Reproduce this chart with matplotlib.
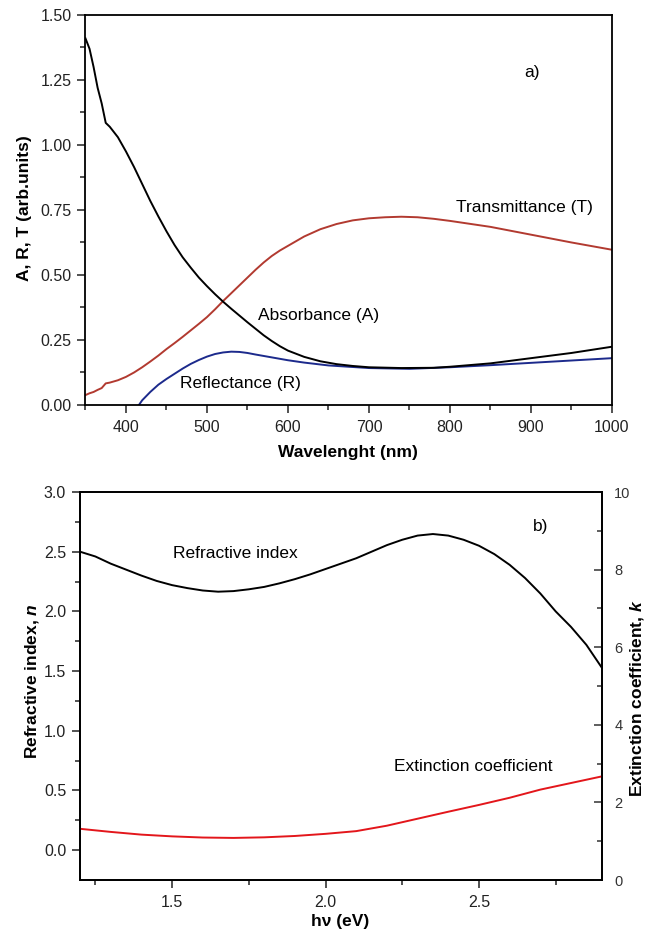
import numpy as np
import matplotlib
matplotlib.use("Agg")
import matplotlib.pyplot as plt
from matplotlib.ticker import MultipleLocator, FormatStrFormatter, FixedLocator

plt.rcParams['font.family'] = ['Liberation Sans', 'DejaVu Sans']
plt.rcParams['mathtext.fontset'] = 'custom'
plt.rcParams['mathtext.it'] = 'Liberation Sans:italic:bold'
plt.rcParams['mathtext.rm'] = 'Liberation Sans:bold'

# ---- panel a): optical spectra ----
wl_A = [350, 355, 360, 365, 370, 375, 380, 390, 400, 410, 420, 430, 440, 450,
        460, 470, 480, 490, 500, 510, 520, 530, 540, 550, 560, 570, 580, 590,
        600, 620, 640, 660, 680, 700, 740, 780, 800, 850, 900, 950, 1000]
absorbance = [1.41, 1.37, 1.30, 1.22, 1.16, 1.085, 1.07, 1.03, 0.975, 0.915, 0.85,
              0.785, 0.725, 0.668, 0.615, 0.568, 0.528, 0.49, 0.457, 0.426, 0.397,
              0.37, 0.344, 0.318, 0.293, 0.268, 0.246, 0.226, 0.209, 0.185,
              0.168, 0.157, 0.15, 0.145, 0.142, 0.143, 0.147, 0.16, 0.18, 0.2, 0.224]

wl_T = [350, 355, 360, 365, 370, 375, 380, 390, 400, 410, 420, 430, 440, 450,
        460, 470, 480, 490, 500, 510, 520, 530, 540, 550, 560, 570, 580, 590,
        600, 620, 640, 660, 680, 700, 720, 740, 760, 780, 800, 850, 900, 950, 1000]
transmittance = [0.038, 0.045, 0.05, 0.058, 0.065, 0.083, 0.086, 0.095, 0.108,
                 0.125, 0.145, 0.167, 0.19, 0.215, 0.238, 0.262, 0.287, 0.312,
                 0.338, 0.368, 0.40, 0.43, 0.46, 0.49, 0.52, 0.548, 0.573, 0.594,
                 0.612, 0.648, 0.676, 0.696, 0.71, 0.718, 0.722, 0.724, 0.722,
                 0.716, 0.708, 0.685, 0.655, 0.625, 0.597]

wl_R = [416, 420, 430, 440, 450, 460, 470, 480, 490, 500, 510, 520, 530, 540,
        550, 560, 580, 600, 620, 650, 700, 750, 800, 850, 900, 950, 1000]
reflectance = [0.0, 0.018, 0.05, 0.078, 0.1, 0.12, 0.14, 0.158, 0.173, 0.186,
               0.196, 0.202, 0.205, 0.204, 0.2, 0.194, 0.183, 0.172, 0.163,
               0.152, 0.142, 0.139, 0.145, 0.153, 0.162, 0.171, 0.18]

# ---- panel b): optical constants ----
energy_n = [1.20, 1.25, 1.30, 1.35, 1.40, 1.45, 1.50, 1.55, 1.60, 1.65, 1.70,
            1.75, 1.80, 1.85, 1.90, 1.95, 2.00, 2.05, 2.10, 2.15, 2.20, 2.25,
            2.30, 2.35, 2.40, 2.45, 2.50, 2.55, 2.60, 2.65, 2.70, 2.75, 2.80,
            2.85, 2.90]
refr_index = [2.50, 2.46, 2.40, 2.35, 2.30, 2.255, 2.22, 2.195, 2.175, 2.165,
              2.17, 2.185, 2.205, 2.235, 2.27, 2.31, 2.355, 2.40, 2.445, 2.50,
              2.555, 2.60, 2.635, 2.648, 2.635, 2.60, 2.55, 2.48, 2.39, 2.28,
              2.15, 2.00, 1.87, 1.72, 1.53]

energy_k = [1.20, 1.30, 1.40, 1.50, 1.60, 1.70, 1.80, 1.90, 2.00, 2.10, 2.20,
            2.30, 2.40, 2.50, 2.60, 2.70, 2.80, 2.90]
ext_coeff = [1.32, 1.24, 1.17, 1.125, 1.095, 1.085, 1.10, 1.135, 1.19, 1.26,
             1.40, 1.58, 1.76, 1.935, 2.12, 2.33, 2.50, 2.67]

LW = 1.4
TICK_FS = 11.5
LABEL_FS = 12.5
ANNOT_FS = 12.5

fig = plt.figure(figsize=(6.5, 9.42), dpi=100)

# ===== top panel =====
ax1 = fig.add_axes([0.1315, 0.5701, 0.8100, 0.4140])
ax1.plot(wl_T, transmittance, color='#b23a30', lw=LW)
ax1.plot(wl_R, reflectance, color='#1c2a8c', lw=LW)
ax1.plot(wl_A, absorbance, color='black', lw=LW)
ax1.set_xlim(350, 1000)
ax1.set_ylim(0, 1.5)
ax1.xaxis.set_major_locator(FixedLocator([400, 500, 600, 700, 800, 900, 1000]))
ax1.xaxis.set_minor_locator(FixedLocator([350, 450, 550, 650, 750, 850, 950]))
ax1.yaxis.set_major_locator(MultipleLocator(0.25))
ax1.yaxis.set_minor_locator(MultipleLocator(0.125))
ax1.yaxis.set_major_formatter(FormatStrFormatter('%.2f'))
ax1.tick_params(which='both', direction='out', top=False, right=False,
                labelsize=TICK_FS, width=1.1, colors='#222222')
ax1.tick_params(which='major', length=6, pad=4)
ax1.tick_params(which='minor', length=3.5)
ax1.tick_params(axis='x', which='major', pad=5)
for s in ax1.spines.values():
    s.set_linewidth(1.3)
ax1.set_xlabel('Wavelenght (nm)', fontsize=LABEL_FS, fontweight='bold')
ax1.set_ylabel('A, R, T (arb.units)', fontsize=LABEL_FS, fontweight='bold')
ax1.xaxis.set_label_coords(0.499, -0.123)
ax1.xaxis.label.set_va('center')
ax1.yaxis.set_label_coords(-0.115, 0.505)
ax1.yaxis.label.set_va('center')

ax1.text(901, 1.28, 'a)', fontsize=ANNOT_FS, ha='center', va='center')
ax1.text(892, 0.76, 'Transmittance (T)', fontsize=ANNOT_FS, ha='center', va='center')
ax1.text(638, 0.345, 'Absorbance (A)', fontsize=ANNOT_FS, ha='center', va='center')
ax1.text(541, 0.081, 'Reflectance (R)', fontsize=ANNOT_FS, ha='center', va='center')

# ===== bottom panel =====
ax2 = fig.add_axes([0.1231, 0.0658, 0.8026, 0.4119])
ax2.plot(energy_n, refr_index, color='black', lw=LW)
ax2.set_xlim(1.2, 2.9)
ax2.set_ylim(-0.25, 3.0)
ax2.xaxis.set_major_locator(FixedLocator([1.5, 2.0, 2.5]))
ax2.xaxis.set_minor_locator(FixedLocator([1.25, 1.75, 2.25, 2.75]))
ax2.xaxis.set_major_formatter(FormatStrFormatter('%.1f'))
ax2.yaxis.set_major_locator(FixedLocator([0, 0.5, 1.0, 1.5, 2.0, 2.5, 3.0]))
ax2.yaxis.set_minor_locator(FixedLocator([0.25, 0.75, 1.25, 1.75, 2.25, 2.75]))
ax2.yaxis.set_major_formatter(FormatStrFormatter('%.1f'))
ax2.tick_params(which='both', direction='out', top=False, right=False,
                labelsize=TICK_FS, width=1.1, colors='#222222')
ax2.tick_params(which='major', length=6, pad=4)
ax2.tick_params(which='minor', length=3.5)
ax2.tick_params(axis='x', which='major', pad=5)
for s in ax2.spines.values():
    s.set_linewidth(1.3)
ax2.set_xlabel('h\u03bd (eV)', fontsize=LABEL_FS, fontweight='bold')
ax2.set_ylabel('Refractive index, $n$', fontsize=LABEL_FS, fontweight='bold')
ax2.xaxis.set_label_coords(0.498, -0.108)
ax2.xaxis.label.set_va('center')
ax2.yaxis.set_label_coords(-0.092, 0.512)
ax2.yaxis.label.set_va('center')

ax3 = ax2.twinx()
ax3.plot(energy_k, ext_coeff, color='#e3161b', lw=LW)
ax3.set_ylim(0, 10)
ax3.yaxis.set_major_locator(MultipleLocator(2))
ax3.yaxis.set_minor_locator(MultipleLocator(1))
ax3.tick_params(which='both', direction='in', labelsize=10.5, width=1.1,
                colors='#333333')
ax3.tick_params(which='major', length=6, pad=9)
ax3.tick_params(which='minor', length=3.5)
for s in ax3.spines.values():
    s.set_linewidth(1.3)
ax3.set_ylabel('Extinction coefficient, $k$', fontsize=LABEL_FS, fontweight='bold')
ax3.yaxis.set_label_coords(1.068, 0.469)
ax3.yaxis.label.set_va('center')

ax2.text(2.70, 2.71, 'b)', fontsize=ANNOT_FS, ha='center', va='center')
ax2.text(1.705, 2.487, 'Refractive index', fontsize=ANNOT_FS, ha='center', va='center')
ax2.text(2.483, 0.704, 'Extinction coefficient', fontsize=ANNOT_FS, ha='center', va='center')

fig.savefig('out.png', dpi=100)
